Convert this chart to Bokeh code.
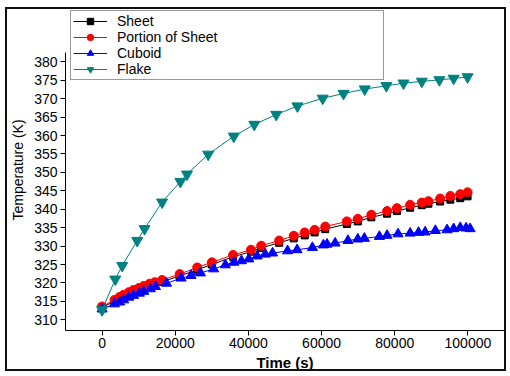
from bokeh.plotting import figure
from bokeh.models import Range1d, Legend, BasicTickFormatter
from bokeh.embed import file_html
from bokeh.resources import INLINE

# ---- data ----
time_sheet = [0, 3400, 4800, 5900, 7300, 8600, 10000, 11400, 13000, 14400, 16400,
              21200, 26000, 30000, 35800, 40700, 43500, 48400, 52400, 55400, 58100,
              61000, 66900, 69900, 73600, 77900, 80600, 84200, 87400, 89200, 92400,
              95200, 97900, 99900]
sheet = [313.4, 315.0, 315.6, 316.2, 316.9, 317.5, 318.0, 318.6, 319.2, 319.6, 320.3,
         321.9, 323.6, 325.0, 327.1, 328.5, 329.5, 330.9, 332.1, 332.9, 333.7,
         334.6, 336.0, 336.7, 337.8, 338.8, 339.5, 340.4, 341.1, 341.5, 342.1,
         342.6, 343.0, 343.5]
portion = [313.6, 315.4, 316.2, 316.8, 317.5, 318.1, 318.6, 319.2, 319.8, 320.2, 320.8,
           322.4, 324.2, 325.6, 327.6, 329.0, 330.1, 331.5, 332.8, 333.7, 334.4,
           335.3, 336.7, 337.4, 338.5, 339.5, 340.3, 341.2, 341.8, 342.2, 342.9,
           343.6, 344.1, 344.6]
time_cuboid = [0, 3400, 4800, 5900, 7300, 8600, 10200, 11400, 13200, 14600, 17600,
               21600, 24300, 26900, 30500, 33700, 36000, 38100, 40100, 42400, 44600,
               46600, 50700, 53300, 57500, 60500, 61500, 63700, 67200, 69900, 71700,
               75800, 77900, 80900, 84200, 86500, 88300, 91100, 94300, 96100, 97900,
               99500, 100600]
cuboid = [312.9, 314.3, 314.8, 315.4, 316.1, 316.6, 317.2, 317.7, 318.4, 319.0, 319.9,
          321.3, 322.0, 322.7, 323.8, 324.9, 325.6, 326.0, 326.5, 327.3, 327.8,
          328.1, 328.7, 329.0, 329.6, 330.3, 330.5, 330.8, 331.5, 331.9, 332.1,
          332.6, 332.9, 333.3, 333.5, 333.7, 333.8, 334.2, 334.4, 334.7, 335.0,
          334.9, 334.7]
time_flake = [0, 3600, 5500, 9600, 11600, 16400, 21400, 23200, 29000, 36000, 41600,
              47600, 53400, 60300, 66000, 71800, 77700, 82400, 87400, 92200, 96100, 99900]
flake = [312.7, 321.0, 324.7, 331.5, 334.7, 341.9, 347.5, 349.5, 354.9, 359.8, 363.0,
         365.7, 368.0, 370.1, 371.4, 372.6, 373.5, 374.2, 374.7, 375.1, 375.5, 375.9]

x_ticks = [0, 20000, 40000, 60000, 80000, 100000]
y_ticks = [310, 315, 320, 325, 330, 335, 340, 345, 350, 355, 360, 365, 370, 375, 380]
y_axis_span = (307.1, 382.5)

FONT = "Liberation Sans"
W, H = 501, 364

p = figure(width=W, height=H, output_backend="svg", toolbar_location=None, title=None,
           x_range=Range1d(-10000, 110000), y_range=Range1d(307.1, 394.2),
           min_border_left=58, min_border_top=0, min_border_right=4, min_border_bottom=42,
           styles={"border": "2px solid #111111", "position": "relative",
                   "left": "5px", "top": "7px"})
p.grid.visible = False
p.outline_line_color = None
p.background_fill_color = "white"
p.border_fill_color = "white"

p.xaxis.ticker = x_ticks
p.xaxis.ticker.num_minor_ticks = 2
p.xaxis.formatter = BasicTickFormatter(use_scientific=False)
p.yaxis.ticker = y_ticks
p.yaxis.ticker.num_minor_ticks = 2
p.yaxis.bounds = y_axis_span

for ax in (p.xaxis[0], p.yaxis[0]):
    ax.axis_line_color = "black"
    ax.major_tick_line_color = "black"
    ax.minor_tick_line_color = "black"
    ax.major_tick_out = 5
    ax.major_tick_in = 0
    ax.minor_tick_out = 0
    ax.minor_tick_in = 3
    ax.major_label_text_font = FONT
    ax.major_label_text_font_size = "14px"
    ax.major_label_text_color = "black"
    ax.axis_label_text_font = FONT
    ax.axis_label_text_color = "black"

p.xaxis.axis_label = "Time (s)"
p.xaxis.axis_label_text_font_size = "15px"
p.xaxis.axis_label_text_font_style = "bold"
p.xaxis.major_label_standoff = 2
p.xaxis.axis_label_standoff = 3
p.yaxis.axis_label = "Temperature (K)"
p.yaxis.axis_label_text_font_size = "14px"
p.yaxis.axis_label_text_font_style = "normal"
p.yaxis.major_label_standoff = 3
p.yaxis.axis_label_standoff = 5

series = [
    ("Sheet", time_sheet, sheet, "#000000", "square", 7),
    ("Portion of Sheet", time_sheet, portion, "#FF0000", "circle", 9),
    ("Cuboid", time_cuboid, cuboid, "#0000FF", "triangle", 10),
    ("Flake", time_flake, flake, "#008080", "inverted_triangle", 11),
]
items = []
for name, xs, ys, col, mk, sz in series:
    r1 = p.line(xs, ys, line_color=col, line_width=1)
    r2 = p.scatter(xs, ys, marker=mk, size=sz, fill_color=col, line_color=col)
    items.append((name, [r1, r2]))

legend = Legend(items=items, location=(5, 250), margin=0, padding=2, spacing=0,
                label_height=16, glyph_height=16, glyph_width=34, label_standoff=10,
                label_width=264, label_text_font=FONT, label_text_font_size="14px",
                label_text_color="black", border_line_color="#333333",
                border_line_width=1, background_fill_color="white",
                background_fill_alpha=1.0)
p.add_layout(legend, "center")

open("out.html", "w").write(file_html(p, INLINE))
